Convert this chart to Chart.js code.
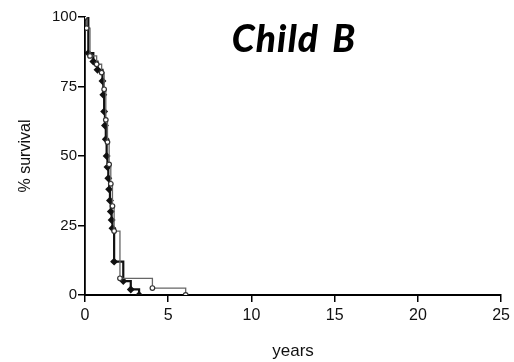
<!DOCTYPE html>
<html>
<head>
<meta charset="utf-8">
<script src="https://cdn.jsdelivr.net/npm/chart.js@4"></script>
<style>
  html, body { margin: 0; padding: 0; background: #fff; }
  #wrap { width: 514px; height: 362px; }
</style>
</head>
<body>
<div id="wrap"><canvas id="kmChart"></canvas></div>
<script>
// Kaplan-Meier curves
const blackYears = [0, 0.2, 0.5, 0.75, 1.05, 1.1, 1.15, 1.2, 1.25, 1.3, 1.35, 1.4, 1.45, 1.5, 1.55, 1.6, 1.65, 1.75, 2.3, 2.75, 3.25];
const blackSurvival = [100, 87, 84, 81, 77, 72, 66, 61, 56, 50, 46, 42, 38, 34, 30, 27, 24, 12, 5, 2, 0];

const greyYears = [0, 0.1, 0.3, 0.7, 1.0, 1.15, 1.25, 1.35, 1.45, 1.55, 1.65, 1.75, 2.1, 4.05, 6.05];
const greySurvival = [100, 96, 86, 83, 80, 74, 63, 55, 47, 40, 32, 23, 6, 2.5, 0];

const xTicks = [0, 5, 10, 15, 20, 25];
const yTicks = [0, 25, 50, 75, 100];

const toPoints = (xs, ys) => xs.map((x, i) => ({ x: x, y: ys[i] }));

const titlePlugin = {
  id: 'childTitle',
  afterDraw(chart) {
    const c = chart.ctx;
    c.save();
    c.font = 'italic 900 37px Lato, "Open Sans", sans-serif';
    c.letterSpacing = '1.2px';
    c.wordSpacing = '4px';
    c.fillStyle = '#000';
    c.textAlign = 'center';
    c.textBaseline = 'alphabetic';
    c.fillText('Child B', 294, 52);
    c.restore();
  }
};

document.addEventListener('DOMContentLoaded', () => {
  const ctx = document.getElementById('kmChart');

  new Chart(ctx, {
    type: 'line',
    data: {
      datasets: [{
        label: 'grey',
        data: toPoints(greyYears, greySurvival),
        stepped: true,
        borderColor: '#666',
        borderWidth: 1.3,
        pointRadius: 2.3,
        pointBackgroundColor: '#fff',
        pointBorderColor: '#333',
        pointBorderWidth: 1.2
      }, {
        label: 'black',
        data: toPoints(blackYears, blackSurvival),
        stepped: true,
        borderColor: '#111',
        borderWidth: 2.2,
        pointRadius: 2.4,
        pointStyle: 'rectRot',
        pointBackgroundColor: '#111',
        pointBorderColor: '#111'
      }]
    },
    options: {
      responsive: true,
      maintainAspectRatio: false,
      animation: false,
      layout: { padding: { top: 17, right: 11, bottom: 0, left: 0 } },
      plugins: {
        legend: { display: false },
        tooltip: { enabled: false }
      },
      scales: {
        x: {
          type: 'linear',
          min: 0,
          max: 25,
          afterFit: (scale) => { scale.height = 67; },
          afterBuildTicks: (scale) => { scale.ticks = xTicks.map(v => ({ value: v })); },
          border: { color: '#000', width: 2 },
          grid: { drawOnChartArea: false, color: '#000', tickLength: 7, lineWidth: 1.5 },
          ticks: {
            color: '#111',
            padding: 4,
            font: { family: '"Liberation Sans", Arial, sans-serif', size: 16 }
          },
          title: {
            display: true,
            text: 'years',
            color: '#111',
            padding: 0,
            font: { family: '"Liberation Sans", Arial, sans-serif', size: 17 }
          }
        },
        y: {
          min: 0,
          max: 100,
          afterFit: (scale) => { scale.width = 85; },
          afterBuildTicks: (scale) => { scale.ticks = yTicks.map(v => ({ value: v })); },
          border: { color: '#000', width: 1.8 },
          grid: { drawOnChartArea: false, color: '#000', tickLength: 7, lineWidth: 1.5 },
          ticks: {
            color: '#111',
            padding: 1,
            font: { family: '"Liberation Sans", Arial, sans-serif', size: 15 }
          },
          title: {
            display: true,
            text: '% survival',
            color: '#111',
            padding: { top: 16, bottom: 0 },
            font: { family: '"Liberation Sans", Arial, sans-serif', size: 16 }
          }
        }
      }
    },
    plugins: [titlePlugin]
  });
});
</script>
</body>
</html>
